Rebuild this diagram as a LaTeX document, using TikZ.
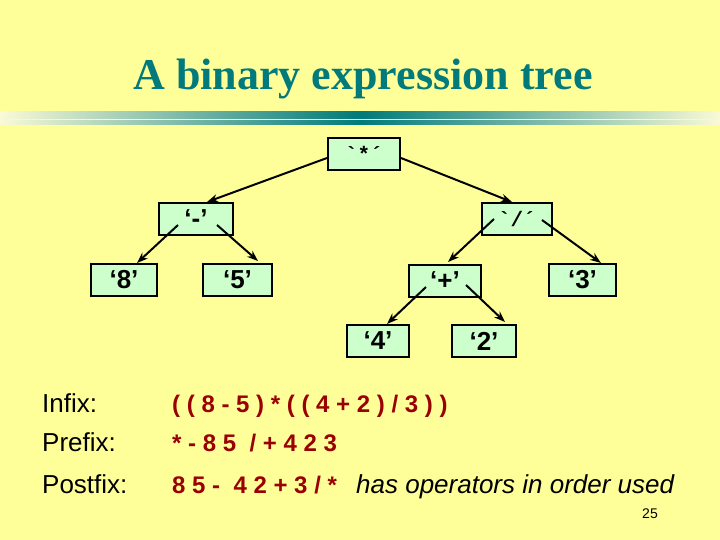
\documentclass[tikz,border=0pt]{standalone}
\usepackage{fontspec}
\setmainfont{Liberation Sans}
\newfontfamily\titlefont{Liberation Serif}
\newfontfamily\tickfont{Liberation Mono}
\usetikzlibrary{arrows.meta}

\definecolor{slidebg}{RGB}{255,255,153}
\definecolor{rulepale}{RGB}{250,250,215}
\definecolor{titleteal}{RGB}{0,122,122}
\definecolor{boxgreen}{RGB}{204,255,204}
\definecolor{exprred}{RGB}{153,0,0}

\newcommand{\ticked}[1]{{\tickfont\fontsize{21}{24}\selectfont\bfseries\symbol{"60}#1\symbol{"B4}}}

\tikzset{
  treebox/.style={draw=black, line width=2pt, fill=boxgreen, minimum height=32pt,
    inner sep=0pt, font=\fontsize{26}{30}\selectfont\bfseries},
  edge/.style={line width=2pt, -{Stealth[length=11pt,width=8pt]}},
  rowlabel/.style={anchor=base west, inner sep=0pt, font=\fontsize{26}{30}\selectfont},
  rowexpr/.style={anchor=base west, inner sep=0pt, text=exprred,
    font=\fontsize{24}{28}\selectfont\bfseries}
}

\begin{document}
\begin{tikzpicture}[x=1pt,y=-1pt]

\useasboundingbox[fill=slidebg] (0,0) rectangle (720,540);

%% title
\node[text=titleteal, anchor=base, inner sep=0pt,
  font=\titlefont\fontsize{44}{50}\selectfont\bfseries] (title) at (363,90) {A binary expression tree};
\shade[left color=rulepale, right color=titleteal] (0,112) rectangle (360,119);
\shade[left color=titleteal, right color=rulepale] (360,112) rectangle (720,119);
\shade[left color=rulepale, right color=titleteal] (0,121) rectangle (360,125);
\shade[left color=titleteal, right color=rulepale] (360,121) rectangle (720,125);

%% boxes
\node[treebox, minimum width=72pt] (times) at (364,154) {\ticked{*}};
\node[treebox, minimum width=74pt] (minus) at (196,219) {‘-’};
\node[treebox, minimum width=70pt] (slash) at (517,219) {\ticked{/}};
\node[treebox, minimum width=66pt] (eight) at (124,280) {‘8’};
\node[treebox, minimum width=69pt] (five) at (237.5,280) {‘5’};
\node[treebox, minimum width=72pt] (plus) at (445,281) {‘+’};
\node[treebox, minimum width=67pt] (three) at (582.5,280) {‘3’};
\node[treebox, minimum width=62pt] (four) at (378,341) {‘4’};
\node[treebox, minimum width=64pt] (two) at (484,341) {‘2’};

%%% arrows
\draw[edge] ([yshift=-4pt]times.west) -- ([xshift=11pt]minus.north);
\draw[edge] ([yshift=-4pt]times.east) -- ([xshift=-5pt]slash.north);
\draw[edge] ([shift={(-18pt,-6pt)}]minus.center) -- ([xshift=13pt]eight.north);
\draw[edge] ([shift={(21pt,-6pt)}]minus.center) -- ([shift={(20.5pt,2pt)}]five.north);
\draw[edge] ([shift={(-23pt,0pt)}]slash.center) -- ([shift={(3pt,2pt)}]plus.north);
\draw[edge] ([shift={(25pt,-1pt)}]slash.center) -- ([xshift=18.5pt]three.north);
\draw[edge] ([shift={(-19pt,-6pt)}]plus.center) -- ([xshift=9pt]four.north);
\draw[edge] ([shift={(21pt,-4pt)}]plus.center) -- ([shift={(21pt,2pt)}]two.north);

%% traversals
\node[rowlabel] (infixlbl) at (42,412) {Infix:};
\node[rowexpr] (infixexpr) at (172,412) {( ( 8 - 5 ) * ( ( 4 + 2 ) / 3 ) )};
\node[rowlabel] (prefixlbl) at (42,451) {Prefix:};
\node[rowexpr] (prefixexpr) at (172,451) {* - 8 5 \ / + 4 2 3};
\node[rowlabel] (postfixlbl) at (42,493) {Postfix:};
\node[rowexpr] (postfixexpr) at (172,493) {8 5 - \ 4 2 + 3 / *};
\node[rowlabel, font=\fontsize{26}{30}\selectfont\itshape] (postfixnote) at (356,493) {has operators in order used};

\node[anchor=base, inner sep=0pt, font=\fontsize{14}{16}\selectfont] (pagenum) at (650,518) {25};

\end{tikzpicture}
\end{document}
